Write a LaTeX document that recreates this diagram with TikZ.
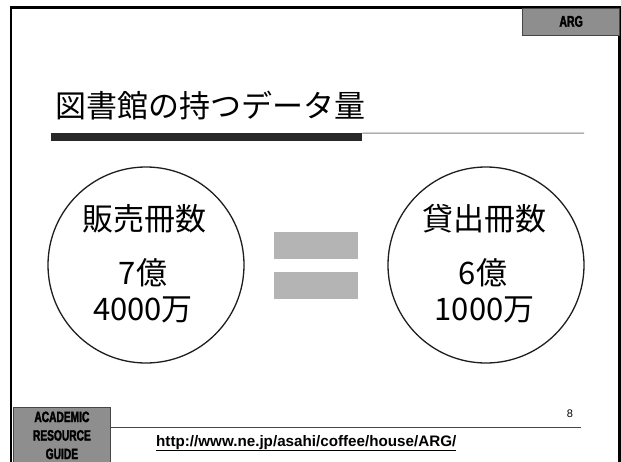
\documentclass[tikz,border=0pt]{standalone}
\usepackage{fontspec}
\newfontfamily\jp{Noto Sans CJK JP}
\newfontfamily\arial{Liberation Sans}
\newfontfamily\condb[FakeStretch=0.68,FakeBold=2.2]{Liberation Sans Bold}
\definecolor{boxgray}{RGB}{142,142,142}
\definecolor{boxedge}{RGB}{70,70,70}
\definecolor{eqgray}{RGB}{180,180,180}
\definecolor{bardark}{RGB}{40,40,40}
\definecolor{ringcol}{RGB}{30,30,30}
\begin{document}
\begin{tikzpicture}[x=1pt,y=-1pt,
  tagbox/.style={fill=boxgray,draw=boxedge,line width=0.8pt,inner sep=0pt,align=center},
  ring/.style={circle,draw=ringcol,line width=1.3pt,minimum size=196pt,inner sep=0pt},
  bigjp/.style={font=\jp\fontsize{31}{31}\selectfont,inner sep=0pt},
  eqbar/.style={fill=eqgray,minimum width=84pt,minimum height=27pt,inner sep=0pt}]
\useasboundingbox (0,0) rectangle (621,461);
\fill[white] (0,0) rectangle (621,461);
% frame
\draw[line width=2.2pt] (11,462) -- (11,7.5) -- (619.5,7.5) -- (619.5,462);
% ARG tag
\node[tagbox,minimum width=97pt,minimum height=27pt,anchor=north east,
      font=\condb\fontsize{15.5}{15.5}\selectfont] (arg) at (620,7.5) {ARG};
% title
\node[font=\jp\fontsize{31}{31}\selectfont,anchor=base west,inner sep=0pt] (title) at (55,117) {図書館の持つデータ量};
\node[fill=bardark,minimum width=311pt,minimum height=8pt,inner sep=0pt,anchor=north west] (bar) at (51,133) {};
\coordinate (lineend) at (584,133.2);
\draw[line width=1pt,color=gray] (bar.north east) -- (lineend);
% circles
\node[ring] (lc) at (146,265) {};
\node[ring] (rc) at (486,265) {};
\node[bigjp] (lt1) at (144,219) {販売冊数};
\node[bigjp] (lt2) at (143,273) {7億};
\node[bigjp] (lt3) at (143,310) {4000万};
\node[bigjp] (rt1) at (484,219) {貸出冊数};
\node[bigjp] (rt2) at (483,273) {6億};
\node[bigjp] (rt3) at (484.5,310) {1000万};
% equals
\node[eqbar] (eqtop) at (316,245.5) {};
\node[eqbar] (eqbot) at (316,285.5) {};
% footer
\coordinate (fl) at (111,427);
\coordinate (fr) at (581,427);
\draw[line width=0.9pt,color=boxedge] (fl) -- (fr);
\node[tagbox,minimum width=97pt,minimum height=56pt,anchor=north west,
      font=\condb\fontsize{15}{18.5}\selectfont] (arg2) at (13,407) {ACADEMIC\\RESOURCE\\GUIDE};
\node[font=\arial\bfseries\fontsize{15.2}{15.2}\selectfont,anchor=base west,inner sep=0pt] (url)
  at (156,446) {\underline{http://www.ne.jp/asahi/coffee/house/ARG/}};
\node[font=\arial\fontsize{11}{11}\selectfont,inner sep=0pt] (pg) at (570,414) {8};
\end{tikzpicture}
\end{document}
